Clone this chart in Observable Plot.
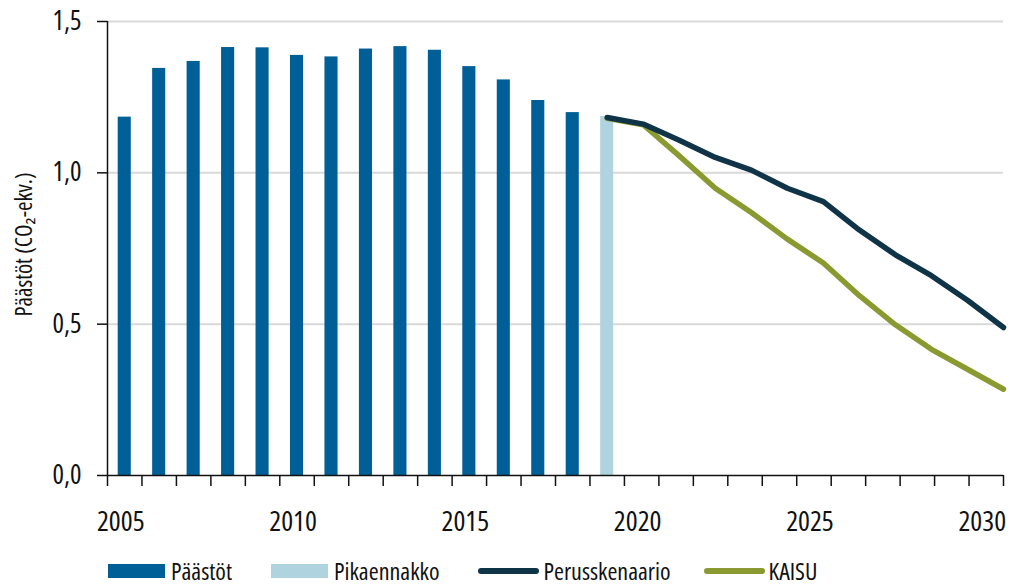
<!DOCTYPE html>
<html>
<head>
<meta charset="utf-8">
<script src="https://cdn.jsdelivr.net/npm/d3@7"></script>
<script src="https://cdn.jsdelivr.net/npm/@observablehq/plot@0.6"></script>
<style>
  body { margin: 0; background: #fff; font-family: "Open Sans", sans-serif; font-stretch: 75%; overflow: hidden; }
  svg text { font-stretch: 75%; }
  #legend { display: flex; align-items: center; gap: 39px; padding-left: 108px; height: 26px; margin-top: 13px; font-size: 24px; line-height: 1; color: #111; }
  .item { display: flex; align-items: center; gap: 6px; }
  .item.lnItem { gap: 4px; }
  .item:last-child { margin-left: -6px; }
  .sw { width: 57px; height: 14px; }
  .ln { width: 61px; height: 6px; border-radius: 3px; }
</style>
</head>
<body>
<div id="chart"></div>
<div id="legend"></div>
<script>
// Data
const barYears = [2005, 2006, 2007, 2008, 2009, 2010, 2011, 2012, 2013, 2014, 2015, 2016, 2017, 2018];
const paastot = [1.184, 1.345, 1.368, 1.414, 1.413, 1.388, 1.383, 1.409, 1.417, 1.405, 1.351, 1.307, 1.239, 1.199];
const pikaYears = [2019];
const pikaennakko = [1.186];
const lineYears = [2019, 2020, 2021, 2022, 2023, 2024, 2025, 2026, 2027, 2028, 2029, 2030];
const perusskenaario = [1.183, 1.161, 1.108, 1.051, 1.009, 0.949, 0.905, 0.811, 0.729, 0.660, 0.579, 0.489];
const kaisu = [1.180, 1.159, 1.056, 0.949, 0.869, 0.781, 0.702, 0.594, 0.498, 0.417, 0.351, 0.285];
const xTickLabels = [2005, 2010, 2015, 2020, 2025, 2030];
const yTicks = [0, 0.5, 1.0, 1.5];

const colors = { paastot: "#005f96", pika: "#b0d4df", perus: "#0f3347", kaisu: "#8a9a31" };
const FONT = '"Open Sans", sans-serif';

const bars = barYears.map((year, i) => ({ year, value: paastot[i] }));
const pika = pikaYears.map((year, i) => ({ year, value: pikaennakko[i] }));
const perus = lineYears.map((year, i) => ({ year, value: perusskenaario[i] }));
const kai = lineYears.map((year, i) => ({ year, value: kaisu[i] }));

const firstYear = barYears[0];
const lastYear = lineYears[lineYears.length - 1];
const lineStart = lineYears[0];
const lineStretch = (lastYear + 0.5 - lineStart) / (lastYear - lineStart);
const lineX = d => lineStart + (d.year - lineStart) * lineStretch;
const halfBar = 0.19;
const boundaries = d3.range(firstYear - 0.5, lastYear + 1, 1);

const chart = Plot.plot({
  width: 1010,
  height: 545,
  marginLeft: 107,
  marginRight: 7,
  marginTop: 21,
  marginBottom: 70,
  style: { fontFamily: FONT, color: "#111", background: "#fff" },
  x: { type: "linear", domain: [firstYear - 0.5, lastYear + 0.5] },
  y: { domain: [0, 1.5] },
  marks: [
    Plot.ruleY(yTicks.filter(t => t > 0), { stroke: "#d9d9d9", strokeWidth: 2 }),
    Plot.rect(bars, { x1: d => d.year - halfBar, x2: d => d.year + halfBar, y1: 0, y2: "value", fill: colors.paastot }),
    Plot.rect(pika, { x1: d => d.year - halfBar, x2: d => d.year + halfBar, y1: 0, y2: "value", fill: colors.pika }),
    Plot.line(kai, { x: lineX, y: "value", stroke: colors.kaisu, strokeWidth: 5.5, strokeLinecap: "round", strokeLinejoin: "round" }),
    Plot.line(perus, { x: lineX, y: "value", stroke: colors.perus, strokeWidth: 5.5, strokeLinecap: "round", strokeLinejoin: "round" }),
    Plot.ruleY([0], { stroke: "#111", strokeWidth: 1.5 }),
    Plot.ruleX([firstYear - 0.5], { y1: 0, y2: 1.5, stroke: "#111", strokeWidth: 1.5 }),
    Plot.axisY({ ticks: yTicks, tickSize: 10, tickPadding: 16, fontSize: 27, tickFormat: d => d.toFixed(1).replace(".", ","), label: null, stroke: "#111", strokeWidth: 1.5 }),
    Plot.axisX({ ticks: boundaries, tickSize: 11, tickFormat: () => "", label: null, stroke: "#111", strokeWidth: 1.5 }),
    Plot.axisX({ ticks: xTickLabels, tickSize: 0, tickPadding: 36, fontSize: 28, dx: -4, tickFormat: d => String(d), label: null }),
    Plot.text(["Päästöt (CO₂-ekv.)"], { frameAnchor: "left", textAnchor: "middle", rotate: -90, dx: -83, dy: -4, fontSize: 23, fill: "#111" })
  ]
});
document.getElementById("chart").appendChild(chart);

const legendItems = [
  { label: "Päästöt", color: colors.paastot, kind: "sw" },
  { label: "Pikaennakko", color: colors.pika, kind: "sw" },
  { label: "Perusskenaario", color: colors.perus, kind: "ln" },
  { label: "KAISU", color: colors.kaisu, kind: "ln" }
];
const legend = document.getElementById("legend");
for (const it of legendItems) {
  const item = document.createElement("div");
  item.className = "item" + (it.kind === "ln" ? " lnItem" : "");
  const sw = document.createElement("div");
  sw.className = it.kind;
  sw.style.background = it.color;
  const t = document.createElement("span");
  t.textContent = it.label;
  item.appendChild(sw);
  item.appendChild(t);
  legend.appendChild(item);
}
</script>
</body>
</html>
